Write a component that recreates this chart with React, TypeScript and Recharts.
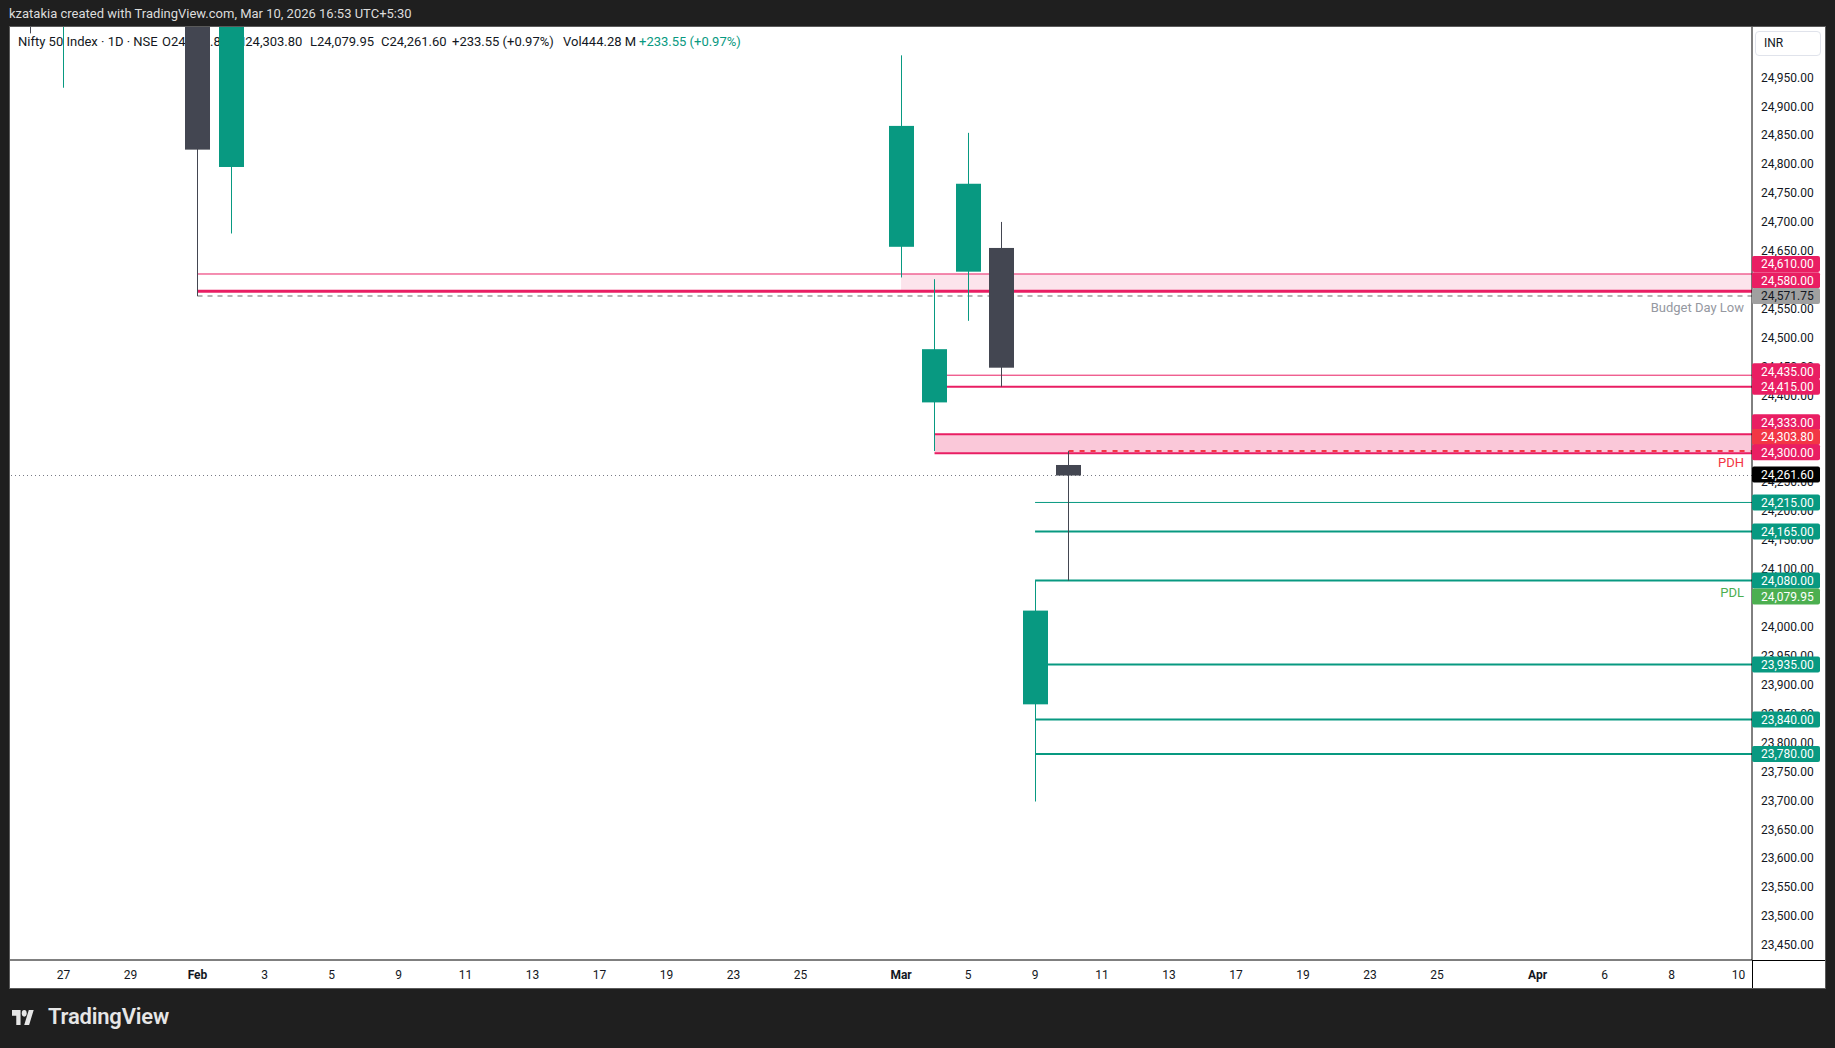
import React from 'react';
import { ComposedChart, Bar, XAxis, YAxis, ReferenceLine, ReferenceArea } from 'recharts';

// ---------- data ----------
const tradingDays = [
  '01-23', '01-27', '01-28', '01-29', '01-30', '02-01', '02-02', '02-03', '02-04', '02-05', '02-06',
  '02-09', '02-10', '02-11', '02-12', '02-13', '02-16', '02-17', '02-18', '02-19', '02-20',
  '02-23', '02-24', '02-25', '02-26', '02-27', '03-02', '03-04', '03-05', '03-06', '03-09',
  '03-10', '03-11', '03-12', '03-13', '03-16', '03-17', '03-18', '03-19', '03-20', '03-23',
  '03-24', '03-25', '03-27', '03-30', '04-01', '04-02', '04-06', '04-07', '04-08', '04-09', '04-10',
];
const tickDates = [
  '01-27', '01-29', '02-01', '02-03', '02-05', '02-09', '02-11', '02-13', '02-17', '02-19', '02-23',
  '02-25', '03-02', '03-05', '03-09', '03-11', '03-13', '03-17', '03-19', '03-23', '03-25', '04-01',
  '04-06', '04-08', '04-10',
];
const tickLabels = [
  '27', '29', 'Feb', '3', '5', '9', '11', '13', '17', '19', '23', '25', 'Mar', '5', '9', '11', '13',
  '17', '19', '23', '25', 'Apr', '6', '8', '10',
];
const monthLabels = ['Feb', 'Mar', 'Apr'];

const candleDates = ['01-23', '01-27', '02-01', '02-02', '03-02', '03-04', '03-05', '03-06', '03-09', '03-10'];
const opens = [25290, 25050, 25320, 24795, 24657, 24388, 24614, 24655, 23866, 24279.8];
const highs = [25350, 25200, 25400, 25120, 24988, 24601, 24854, 24700, 24080, 24303.8];
const lows = [25026, 24932, 24571.75, 24680, 24604, 24304, 24529, 24415, 23698, 24079.95];
const closes = [25050, 25170, 24825, 25090, 24866, 24480, 24766, 24448, 24028.05, 24261.6];

const priceTicks = [
  23450, 23500, 23550, 23600, 23650, 23700, 23750, 23800, 23850, 23900, 23950, 24000, 24050, 24100,
  24150, 24200, 24250, 24300, 24350, 24400, 24450, 24500, 24550, 24600, 24650, 24700, 24750, 24800,
  24850, 24900, 24950,
];

const supplyZoneHigh = [24610, 24580];
const supplyZoneHighStart = '02-01';
const supplyZoneHighFillStart = '03-02';
const budgetDayLow = 24571.75;
const resistanceLines = [24435, 24415];
const resistanceStart = '03-04';
const supplyZoneLow = [24333, 24300];
const supplyZoneLowStart = '03-04';
const prevDayHigh = 24303.8;
const prevDayHighStart = '03-10';
const lastPrice = 24261.6;
const prevDayLow = 24079.95;
const supportLines = [24215, 24165, 24080, 23935, 23840, 23780];
const supportStart = '03-09';

// ---------- styles ----------
const X_MIN = -0.597;
const X_MAX = 51.4;
const Y_MIN = 23424;
const Y_MAX = 25037;
const PINK = '#e91e63';
const RED = '#f23645';
const TEAL = '#089981';
const GREEN = '#4caf50';
const DARK = '#434651';
const TEXT = '#131722';
const FONT = 'Roboto, "Noto Sans", sans-serif';

const pos = (d: string) => tradingDays.indexOf(d);
const fmt = (v: number) => v.toLocaleString('en-US', { minimumFractionDigits: 2, maximumFractionDigits: 2 });

const candles = candleDates.map((d, i) => ({
  pos: pos(d),
  open: opens[i],
  high: highs[i],
  low: lows[i],
  close: closes[i],
}));

const Candle = (props: any) => {
  const { x, y, width, height, payload } = props;
  if (!payload || x == null) return null;
  const { open, close, high, low } = payload;
  const top = Math.min(y, y + height);
  const h = Math.abs(height);
  const ppu = h / (high - low);
  const py = (v: number) => top + (high - v) * ppu;
  const cx = Math.round(x + width / 2);
  const color = close >= open ? TEAL : DARK;
  const bTop = py(Math.max(open, close));
  const bBot = py(Math.min(open, close));
  return (
    <g>
      <line x1={cx + 0.5} x2={cx + 0.5} y1={py(high)} y2={py(low)} stroke={color} strokeWidth={1} />
      <rect x={cx - 12} y={bTop} width={25} height={Math.max(1, bBot - bTop)} fill={color} />
    </g>
  );
};

const PriceTag = (props: any) => {
  const { viewBox, text, bg, fg, dy } = props;
  if (!viewBox) return null;
  const x0 = viewBox.x + viewBox.width;
  const cy = viewBox.y + (dy || 0);
  return (
    <g>
      <rect x={x0} y={cy - 8} width={68} height={16} rx={2} fill={bg} />
      <text x={x0 + 9} y={cy} dy="0.36em" fill={fg} fontSize={12} fontFamily={FONT}>
        {text}
      </text>
    </g>
  );
};

const SideText = (props: any) => {
  const { viewBox, text, color } = props;
  if (!viewBox) return null;
  return (
    <text
      x={viewBox.x + viewBox.width - 8}
      y={viewBox.y + 11.5}
      dy="0.36em"
      textAnchor="end"
      fill={color}
      fontSize={13}
      fontFamily={FONT}
    >
      {text}
    </text>
  );
};

const XTick = (props: any) => {
  const { x, y, payload } = props;
  const idx = tickDates.map(pos).indexOf(payload.value);
  const label = idx >= 0 ? tickLabels[idx] : '';
  const bold = monthLabels.includes(label);
  return (
    <text x={x} y={y} dy="0.71em" textAnchor="middle" fill={TEXT} fontSize={12} fontWeight={bold ? 700 : 400} fontFamily={FONT}>
      {label}
    </text>
  );
};

const hSeg = (start: string, price: number) => [
  { x: pos(start), y: price },
  { x: X_MAX, y: price },
];

type Tag = { price: number; bg: string; fg: string; dy: number };
const tags: Tag[] = [
  { price: supplyZoneHigh[0], bg: PINK, fg: '#fff', dy: -10 },
  { price: supplyZoneHigh[1], bg: PINK, fg: '#fff', dy: -11 },
  { price: budgetDayLow, bg: '#a0a0a0', fg: TEXT, dy: 0 },
  { price: resistanceLines[0], bg: PINK, fg: '#fff', dy: -4 },
  { price: resistanceLines[1], bg: PINK, fg: '#fff', dy: 0 },
  { price: supplyZoneLow[0], bg: PINK, fg: '#fff', dy: -12 },
  { price: prevDayHigh, bg: RED, fg: '#fff', dy: -14 },
  { price: supplyZoneLow[1], bg: PINK, fg: '#fff', dy: -1 },
  { price: lastPrice, bg: '#000', fg: '#fff', dy: -1 },
  { price: supportLines[0], bg: TEAL, fg: '#fff', dy: 0 },
  { price: supportLines[1], bg: TEAL, fg: '#fff', dy: 0 },
  { price: supportLines[2], bg: TEAL, fg: '#fff', dy: 0 },
  { price: prevDayLow, bg: GREEN, fg: '#fff', dy: 16 },
  { price: supportLines[3], bg: TEAL, fg: '#fff', dy: 0 },
  { price: supportLines[4], bg: TEAL, fg: '#fff', dy: 0 },
  { price: supportLines[5], bg: TEAL, fg: '#fff', dy: 0 },
];

const supportWidths = [1, 2, 2, 2, 2, 2];

const headerParts: { text: string; left: number; color?: string }[] = [
  { text: 'Nifty 50 Index · 1D · NSE', left: 18 },
  { text: 'O24,279.80', left: 162 },
  { text: 'H24,303.80', left: 236 },
  { text: 'L24,079.95', left: 310 },
  { text: 'C24,261.60', left: 381 },
  { text: '+233.55 (+0.97%)', left: 452 },
  { text: 'Vol444.28 M', left: 563 },
  { text: '+233.55 (+0.97%)', left: 639, color: TEAL },
];

export default function App() {
  return (
    <div
      style={{
        position: 'absolute',
        left: 0,
        top: 0,
        width: 1835,
        height: 1048,
        background: '#1f1f1f',
        fontFamily: FONT,
        overflow: 'hidden',
      }}
    >
      <div style={{ position: 'absolute', left: 9, top: 5, fontSize: 13, color: '#dcdcdc', lineHeight: '18px' }}>
        kzatakia created with TradingView.com, Mar 10, 2026 16:53 UTC+5:30
      </div>
      <div
        style={{
          position: 'absolute',
          left: 9,
          top: 26,
          width: 1817,
          height: 963,
          boxSizing: 'border-box',
          border: '1px solid #5a5a5a',
          background: '#fff',
        }}
      />
      {headerParts.map((p, i) => (
        <div
          key={i}
          style={{
            position: 'absolute',
            left: p.left,
            top: 33,
            fontSize: 13,
            lineHeight: '18px',
            color: p.color || TEXT,
            whiteSpace: 'nowrap',
          }}
        >
          {p.text}
        </div>
      ))}
      <div
        style={{
          position: 'absolute',
          left: 1755,
          top: 31,
          width: 66,
          height: 25,
          boxSizing: 'border-box',
          border: '1px solid #e0e3eb',
          borderRadius: 4,
          fontSize: 12,
          color: TEXT,
          lineHeight: '23px',
          paddingLeft: 8,
        }}
      >
        INR
      </div>
      {/* axis line extensions */}
      <div style={{ position: 'absolute', left: 1752, top: 960, width: 1, height: 28, background: '#000' }} />
      <div style={{ position: 'absolute', left: 1752, top: 960, width: 73, height: 1, background: '#000' }} />

      <div style={{ position: 'absolute', left: 10, top: 27 }}>
        <ComposedChart
          width={1815}
          height={961}
          data={candles}
          margin={{ top: 0, right: 0, bottom: 0, left: 0 }}
          style={{ fontFamily: FONT }}
        >
          <XAxis
            dataKey="pos"
            type="number"
            domain={[X_MIN, X_MAX]}
            allowDataOverflow
            ticks={tickDates.map(pos)}
            interval={0}
            tick={<XTick />}
            tickLine={false}
            tickSize={6}
            tickMargin={4}
            height={28}
            axisLine={{ stroke: '#000', strokeWidth: 1 }}
          />
          <YAxis
            orientation="right"
            type="number"
            domain={[Y_MIN, Y_MAX]}
            allowDataOverflow
            ticks={priceTicks}
            interval={0}
            width={73}
            tickLine={false}
            tickSize={6}
            tickMargin={3}
            tickFormatter={fmt}
            tick={{ fill: TEXT, fontSize: 12, fontFamily: FONT }}
            axisLine={{ stroke: '#000', strokeWidth: 1 }}
          />

          <ReferenceArea
            x1={pos(supplyZoneHighFillStart)}
            x2={X_MAX}
            y1={supplyZoneHigh[1]}
            y2={supplyZoneHigh[0]}
            fill="rgba(233,30,99,0.12)"
            fillOpacity={1}
            stroke="none"
            ifOverflow="visible"
          />
          <ReferenceArea
            x1={pos(supplyZoneLowStart)}
            x2={X_MAX}
            y1={supplyZoneLow[1]}
            y2={supplyZoneLow[0]}
            fill="rgba(233,30,99,0.245)"
            fillOpacity={1}
            stroke="none"
            ifOverflow="visible"
          />

          <ReferenceLine segment={hSeg(supplyZoneHighStart, supplyZoneHigh[0])} stroke={PINK} strokeWidth={1} ifOverflow="visible" />
          <ReferenceLine segment={hSeg(supplyZoneHighStart, supplyZoneHigh[1])} stroke={PINK} strokeWidth={3} ifOverflow="visible" />
          <ReferenceLine
            segment={hSeg(supplyZoneHighStart, budgetDayLow)}
            stroke="#9e9e9e"
            strokeWidth={1.5}
            strokeDasharray="5 5"
            ifOverflow="visible"
            label={<SideText text="Budget Day Low" color="#9598a1" />}
          />
          <ReferenceLine segment={hSeg(resistanceStart, resistanceLines[0])} stroke={PINK} strokeWidth={1} ifOverflow="visible" />
          <ReferenceLine segment={hSeg(resistanceStart, resistanceLines[1])} stroke={PINK} strokeWidth={2} ifOverflow="visible" />
          <ReferenceLine segment={hSeg(supplyZoneLowStart, supplyZoneLow[0])} stroke={PINK} strokeWidth={2} ifOverflow="visible" />
          <ReferenceLine segment={hSeg(supplyZoneLowStart, supplyZoneLow[1])} stroke={PINK} strokeWidth={2} ifOverflow="visible" />
          <ReferenceLine
            segment={hSeg(prevDayHighStart, prevDayHigh)}
            stroke={RED}
            strokeWidth={2}
            strokeDasharray="5 6"
            ifOverflow="visible"
            label={<SideText text="PDH" color={RED} />}
          />
          <ReferenceLine y={lastPrice} stroke="#787b86" strokeWidth={1} strokeDasharray="1 3" ifOverflow="visible" />
          {supportLines.map((p, i) => (
            <ReferenceLine
              key={'s' + i}
              segment={hSeg(supportStart, p)}
              stroke={TEAL}
              strokeWidth={supportWidths[i]}
              ifOverflow="visible"
            />
          ))}
          <ReferenceLine
            y={prevDayLow}
            stroke="none"
            strokeWidth={0}
            ifOverflow="visible"
            label={<SideText text="PDL" color={GREEN} />}
          />

          <Bar
            dataKey={(d: any) => [d.low, d.high]}
            barSize={25}
            shape={<Candle />}
            isAnimationActive={false}
            zIndex={450}
          />

          {tags.map((t, i) => (
            <ReferenceLine
              key={'t' + i}
              y={t.price}
              stroke="none"
              strokeWidth={0}
              ifOverflow="visible"
              zIndex={3000}
              label={<PriceTag text={fmt(t.price)} bg={t.bg} fg={t.fg} dy={t.dy} />}
            />
          ))}
        </ComposedChart>
      </div>

      {/* footer logo */}
      <svg style={{ position: 'absolute', left: 12, top: 1010 }} width={22} height={15} viewBox="0 4 36 18" preserveAspectRatio="none">
        <path d="M14 22H7V11H0V4h14v18zM28 22h-8l7.5-18h8L28 22z" fill="#e6e6e6" />
        <circle cx="20" cy="8" r="4" fill="#e6e6e6" />
      </svg>
      <div
        style={{
          position: 'absolute',
          left: 48,
          top: 1003,
          fontSize: 22,
          fontWeight: 600,
          color: '#e6e6e6',
          lineHeight: '28px',
          letterSpacing: '-0.2px',
        }}
      >
        TradingView
      </div>
    </div>
  );
}
